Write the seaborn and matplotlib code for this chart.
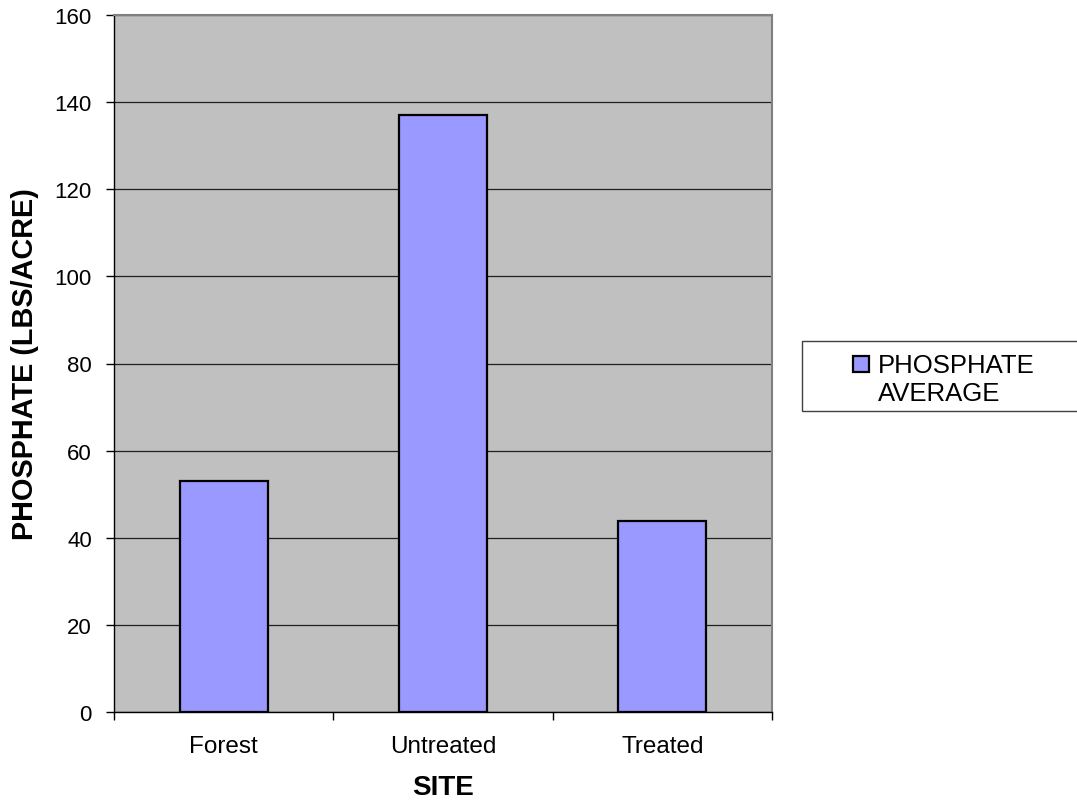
import matplotlib
matplotlib.use("Agg")
import matplotlib.pyplot as plt
from matplotlib.patches import Rectangle
from matplotlib.legend_handler import HandlerPatch
import seaborn as sns
import pandas as pd

# Average phosphate per site (lbs/acre)
sites = ["Forest", "Untreated", "Treated"]
phosphate_avg = [53.0, 137.0, 43.8]
series_name = "PHOSPHATE\nAVERAGE"
y_ticks = [0, 20, 40, 60, 80, 100, 120, 140, 160]

df = pd.DataFrame({"SITE": sites, "PHOSPHATE": phosphate_avg})

sns.set_style("white")
plt.rcParams["font.family"] = ["Liberation Sans", "DejaVu Sans"]
for key in ("text.color", "axes.labelcolor", "xtick.color", "ytick.color"):
    plt.rcParams[key] = "black"

BAR = "#9999FF"
W, H = 1077, 812
fig = plt.figure(figsize=(W / 100, H / 100), dpi=100)
ax = fig.add_axes([114 / W, 1 - 713 / H, (772 - 114) / W, (713 - 16) / H])
ax.set_facecolor("#C0C0C0")

sns.barplot(data=df, x="SITE", y="PHOSPHATE", color=BAR, saturation=1,
            width=0.4, edgecolor="black", linewidth=1.6, ax=ax, zorder=3)

ax.set_xlim(-0.5, len(sites) - 0.5)
ax.set_ylim(0, 160)
ax.set_yticks(y_ticks)
ax.yaxis.grid(True, color="#202020", linewidth=0.9, zorder=0)
ax.set_axisbelow(True)

# category labels centred, tick marks on the category boundaries
ax.set_xticks(range(len(sites)))
ax.set_xticklabels(sites)
ax.set_xticks([i - 0.5 for i in range(len(sites) + 1)], minor=True)
ax.tick_params(axis="x", which="major", length=0, pad=16.5, labelsize=17.5)
ax.tick_params(axis="x", which="minor", length=6, width=1, color="black",
               direction="out", bottom=True)
ax.tick_params(axis="y", which="major", length=6, width=1, color="black",
               direction="out", left=True, pad=10, labelsize=16)

for side in ("left", "bottom"):
    ax.spines[side].set_color("black")
    ax.spines[side].set_linewidth(1.0)
for side in ("top", "right"):
    ax.spines[side].set_color("#808080")
    ax.spines[side].set_linewidth(1.5)

ax.set_xlabel("SITE", fontsize=20, fontweight="bold")
ax.set_ylabel("PHOSPHATE (LBS/ACRE)", fontsize=20.8, fontweight="bold")
ax.xaxis.set_label_coords(0.5, -0.089)
ax.yaxis.set_label_coords(-0.114, 0.5)

# legend box
fig.patches.append(Rectangle((802 / W, 1 - 412 / H), 0.3, 70 / H,
                             transform=fig.transFigure, facecolor="white",
                             edgecolor="#404040", linewidth=1.0))


def first_line_square(legend, orig_handle, xdescent, ydescent, width, height, fontsize):
    return Rectangle((-xdescent, -ydescent + 0.6 * fontsize), width, height)


handle = ax.patches[0]
leg = fig.legend([handle], [series_name], loc="upper left",
                 bbox_to_anchor=(853 / W, 1 - 354 / H), frameon=False,
                 fontsize=18.5, borderpad=0, borderaxespad=0,
                 handlelength=0.62, handleheight=0.62, handletextpad=0.35,
                 handler_map={handle: HandlerPatch(patch_func=first_line_square)})

fig.savefig("out.png", dpi=100, facecolor="white")
